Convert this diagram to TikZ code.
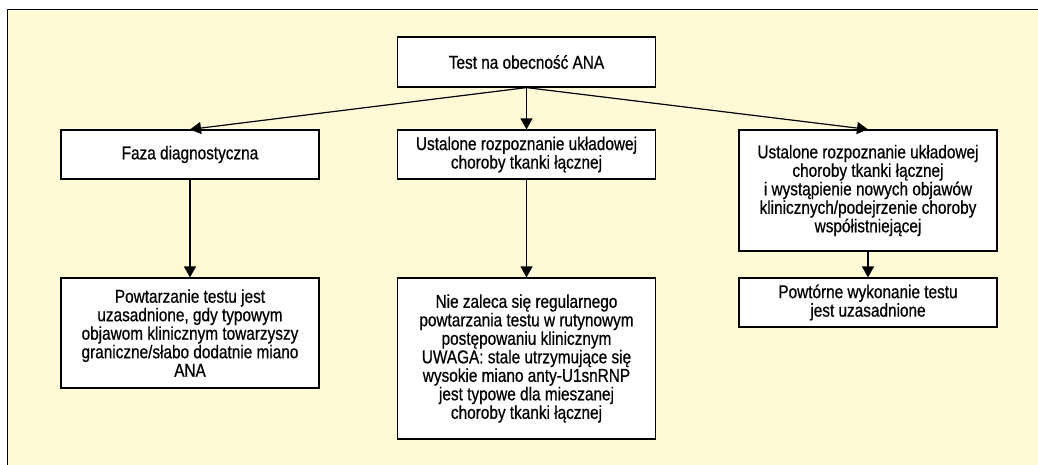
\documentclass[tikz,border=0pt]{standalone}
\usepackage{fontspec}
\setmainfont{Liberation Sans}[FakeStretch=0.83, FakeBold=0.6]
\usetikzlibrary{arrows.meta}
\definecolor{panel}{RGB}{255,249,214}
\tikzset{
  box/.style={draw=black, line width=1.2pt, fill=white, align=center,
    minimum width=258pt, inner sep=0pt, font=\fontsize{18.5}{18.5}\selectfont},
  arr/.style={line width=1.2pt, -{Triangle[length=11pt,width=12pt]}}
}
\begin{document}
\begin{tikzpicture}[x=1pt,y=-1pt]
\useasboundingbox (0,0) rectangle (1038,464);
\fill[white] (0,0) rectangle (1038,464);
\fill[panel] (7,9) rectangle (1040,466);
\draw[line width=1pt] (7,466) -- (7,9) -- (1040,9);
\node[box, minimum height=50pt] (top) at (526.5,62) {Test na obecność ANA};
\node[box, minimum height=49pt] (faza) at (190,154.5) {Faza diagnostyczna};
\node[box, minimum height=49pt] (mid) at (526.5,154.5) {Ustalone rozpoznanie układowej\\choroby tkanki łącznej};
\node[box, minimum height=121pt] (right) at (868,190.5) {Ustalone rozpoznanie układowej\\choroby tkanki łącznej\\i wystąpienie nowych objawów\\klinicznych/podejrzenie choroby\\współistniejącej};
\node[box, minimum height=110pt] (pow) at (190,333) {Powtarzanie testu jest\\uzasadnione, gdy typowym\\objawom klinicznym towarzyszy\\graniczne/słabo dodatnie miano\\ANA};
\node[box, minimum height=161pt] (nie) at (526.5,358.5) {Nie zaleca się regularnego\\powtarzania testu w rutynowym\\postępowaniu klinicznym\\UWAGA: stale utrzymujące się\\wysokie miano anty-U1snRNP\\jest typowe dla mieszanej\\choroby tkanki łącznej};
\node[box, minimum height=49pt] (powt) at (868,302.5) {Powtórne wykonanie testu\\jest uzasadnione};
\draw[arr] (top.south) -- (faza.north);
\draw[arr] (top.south) -- (mid.north);
\draw[arr] (top.south) -- (right.north);
\draw[arr] (faza.south) -- (pow.north);
\draw[arr] (mid.south) -- (nie.north);
\draw[arr] (right.south) -- (powt.north);
\end{tikzpicture}
\end{document}
